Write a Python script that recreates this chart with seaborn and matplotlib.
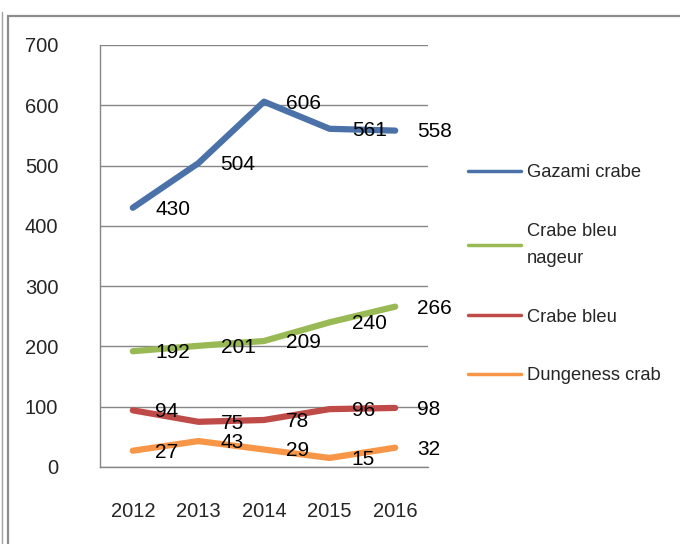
import matplotlib
matplotlib.use("Agg")
import matplotlib.pyplot as plt
import seaborn as sns
import pandas as pd
from matplotlib.patches import Rectangle
from matplotlib.lines import Line2D

# data
years = ['2012', '2013', '2014', '2015', '2016']
gazami = [430, 504, 606, 561, 558]
bleu_nageur = [192, 201, 209, 240, 266]
bleu = [94, 75, 78, 96, 98]
dungeness = [27, 43, 29, 15, 32]
series_names = ['Gazami crabe', 'Crabe bleu\nnageur', 'Crabe bleu', 'Dungeness crab']
colors = ['#4A72A8', '#98B954', '#BE4B48', '#F79646']

series = [gazami, bleu_nageur, bleu, dungeness]
rows = []
for name, vals in zip(series_names, series):
    for yr, v in zip(years, vals):
        rows.append({'year': yr, 'value': v, 'series': name})
df = pd.DataFrame(rows)

sns.set_style('white')
plt.rcParams['font.family'] = ['Liberation Sans', 'DejaVu Sans']

fig = plt.figure(figsize=(6.8, 5.44), dpi=100)
ax = fig.add_axes([100/680, 1 - 467/544, 328/680, 422/544])

sns.lineplot(data=df, x='year', y='value', hue='series', palette=colors,
             hue_order=series_names, linewidth=4.5, ax=ax, legend=False)

# data labels to the right of each point
for vals in series:
    for i, v in enumerate(vals):
        ax.annotate(str(v), (i, v), xytext=(16, -1), textcoords='offset points',
                    ha='left', va='center', fontsize=15, color='black')

ax.set_xlim(-0.5, 4.5)
ax.set_ylim(0, 700)
ax.set_yticks(range(0, 701, 100))
ax.set_xlabel('')
ax.set_ylabel('')
ax.yaxis.grid(True, color='#868686', lw=1)
ax.xaxis.grid(False)
for s in ['top', 'right']:
    ax.spines[s].set_visible(False)
for s in ['left', 'bottom']:
    ax.spines[s].set_color('#868686')
    ax.spines[s].set_linewidth(1)
ax.tick_params(axis='y', length=0, pad=30, labelsize=14.5)
ax.tick_params(axis='x', length=0, pad=25, labelsize=14.5)

handles = [Line2D([0], [0], color=c, lw=2.5) for c in colors]
leg = fig.legend(handles, series_names, loc='upper left', bbox_to_anchor=(459/680, 1 - 155/544),
                 frameon=False, fontsize=13.2, handlelength=2.9, handletextpad=0.3,
                 labelspacing=2.27, borderpad=0)
for t in leg.get_texts():
    t.set_linespacing(1.8)

# outer chart frame
fig.add_artist(Rectangle((8/680, -0.1), 1.0, 1 - 16/544 + 0.1, transform=fig.transFigure,
                         fill=False, ec='#8c8c8c', lw=1.6))
fig.add_artist(Line2D([2/680, 2/680], [0, 1 - 12/544], transform=fig.transFigure,
                      color='#a0a0a0', lw=1))

fig.savefig('out.png', dpi=100)
